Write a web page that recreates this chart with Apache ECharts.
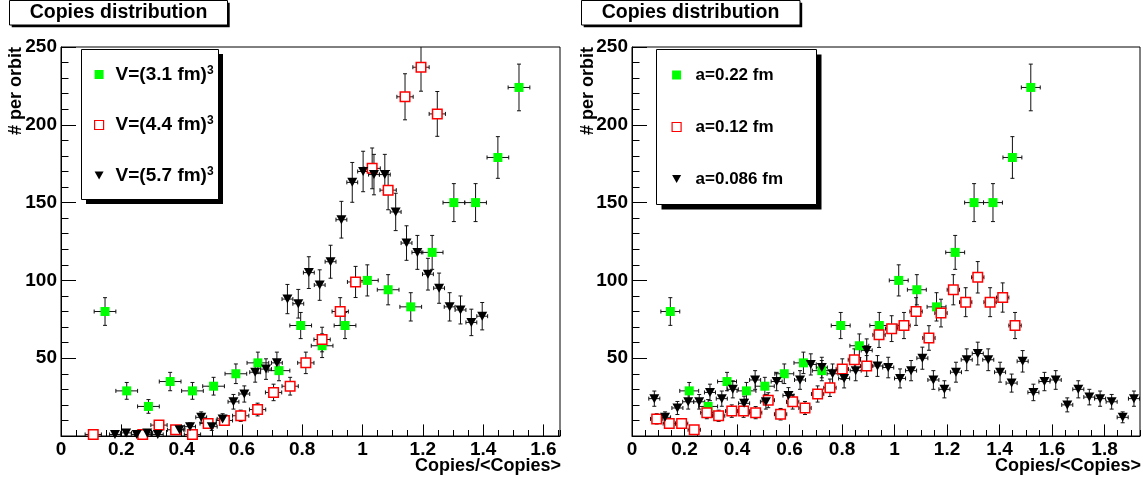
<!DOCTYPE html>
<html><head><meta charset="utf-8">
<script src="https://cdn.jsdelivr.net/npm/echarts@6/dist/echarts.min.js"></script>
<style>html,body{margin:0;padding:0;background:#fff}#c{width:1146px;height:483px}</style>
</head><body><div id="c"></div>
<script>
// ---------- data ----------
const titleText = 'Copies distribution';
const xTitle = 'Copies/<Copies>';
const yTitle = '# per orbit';
const leftNames = ['V=(3.1 fm)^3', 'V=(4.4 fm)^3', 'V=(5.7 fm)^3'];
const rightNames = ['a=0.22 fm', 'a=0.12 fm', 'a=0.086 fm'];

// green squares (same data set in both panels)
const greenX = [0.146, 0.218, 0.29, 0.362, 0.436, 0.506, 0.58, 0.653, 0.723, 0.795, 0.866, 0.942, 1.016, 1.085, 1.16, 1.231, 1.303, 1.375, 1.449, 1.519];
const greenY = [80, 29, 19, 35, 29, 32, 40, 47, 42, 71, 58, 71, 100, 94, 83, 118, 150, 150, 179, 224];
const greenErr = [8.9, 5.4, 4.4, 5.9, 5.4, 5.7, 6.3, 6.9, 6.5, 8.4, 7.6, 8.4, 10, 9.7, 9.1, 10.9, 12.2, 12.2, 13.4, 15];
const greenXErr = 0.036;

// left panel: open red squares
const redLX = [0.107, 0.271, 0.325, 0.38, 0.436, 0.488, 0.542, 0.596, 0.652, 0.705, 0.76, 0.812, 0.866, 0.926, 0.977, 1.032, 1.085, 1.141, 1.194, 1.248];
const redLY = [1, 1, 7, 4, 1, 8, 10, 13, 17, 28, 32, 47, 62, 80, 99, 172, 158, 218, 237, 207];
const redLErr = [1, 1, 2.6, 2, 1, 2.8, 3.2, 3.6, 4.1, 5.3, 5.7, 6.9, 7.9, 8.9, 10, 13.1, 12.6, 14.8, 15.4, 14.4];
const redLXErr = 0.027;

// left panel: black triangles
const blackLX = [0.179, 0.216, 0.251, 0.286, 0.321, 0.393, 0.428, 0.465, 0.5, 0.536, 0.572, 0.608, 0.644, 0.68, 0.716, 0.751, 0.787, 0.822, 0.858, 0.894, 0.93, 0.966, 1.002, 1.038, 1.074, 1.11, 1.146, 1.182, 1.217, 1.254, 1.289, 1.325, 1.361, 1.397];
const blackLY = [1, 2, 1, 2, 1, 4, 6, 12, 6, 11, 22, 27, 41, 43, 47, 88, 85, 105, 97, 112, 139, 163, 170, 168, 168, 144, 124, 118, 104, 95, 83, 81, 73, 77];
const blackLErr = [1, 1.4, 1, 1.4, 1, 2, 2.4, 3.5, 2.4, 3.3, 4.7, 5.2, 6.4, 6.6, 6.9, 9.4, 9.2, 10.2, 9.8, 10.6, 11.8, 12.8, 13, 13, 13, 12, 11.1, 10.9, 10.2, 9.7, 9.1, 9, 8.5, 8.8];
const blackLXErr = 0.018;

// right panel: open red squares
const redRX = [0.094, 0.142, 0.189, 0.237, 0.285, 0.33, 0.38, 0.425, 0.471, 0.519, 0.566, 0.612, 0.659, 0.707, 0.754, 0.801, 0.847, 0.894, 0.941, 0.989, 1.036, 1.082, 1.131, 1.177, 1.224, 1.271, 1.317, 1.364, 1.412, 1.459];
const redRY = [11, 8, 8, 4, 15, 13, 16, 16, 15, 23, 14, 22, 18, 27, 31, 43, 49, 45, 65, 69, 71, 80, 63, 79, 94, 86, 102, 86, 89, 71];
const redRErr = [3.3, 2.8, 2.8, 2, 3.9, 3.6, 4, 4, 3.9, 4.8, 3.7, 4.7, 4.2, 5.2, 5.6, 6.6, 7, 6.7, 8.1, 8.3, 8.4, 8.9, 7.9, 8.9, 9.7, 9.3, 10.1, 9.3, 9.4, 8.4];
const redRXErr = 0.0235;

// right panel: black triangles
const blackRX = [0.085, 0.126, 0.173, 0.214, 0.256, 0.297, 0.342, 0.384, 0.427, 0.469, 0.51, 0.551, 0.596, 0.64, 0.681, 0.723, 0.764, 0.808, 0.852, 0.894, 0.935, 0.976, 1.021, 1.063, 1.106, 1.148, 1.19, 1.234, 1.275, 1.317, 1.357, 1.402, 1.446, 1.488, 1.529, 1.571, 1.614, 1.658, 1.7, 1.742, 1.783, 1.827, 1.869, 1.912];
const blackRY = [24, 12, 18, 22, 22, 28, 24, 30, 21, 36, 22, 35, 26, 36, 46, 44, 40, 37, 42, 55, 45, 44, 37, 42, 50, 36, 30, 41, 49, 53, 49, 41, 34, 48, 28, 35, 36, 20, 30, 25, 24, 22, 12, 24];
const blackRErr = [4.9, 3.5, 4.2, 4.7, 4.7, 5.3, 4.9, 5.5, 4.6, 6, 4.7, 5.9, 5.1, 6, 6.8, 6.6, 6.3, 6.1, 6.5, 7.4, 6.7, 6.6, 6.1, 6.5, 7.1, 6, 5.5, 6.4, 7, 7.3, 7, 6.4, 5.8, 6.9, 5.3, 5.9, 6, 4.5, 5.5, 5, 4.9, 4.7, 3.5, 4.9];
const blackRXErr = 0.021;

const leftXMax = 1.655, rightXMax = 1.935, yMax = 250;

// ---------- chart ----------
const FONT = "'Liberation Sans', Arial, Helvetica, sans-serif";
const GREEN = '#00ff00', RED = '#ff0000';
const DOWN_TRIANGLE = 'path://M0,0L10,0L5,9Z';

function pts(xs, ys) { return xs.map((x, i) => [x, ys[i]]); }
function errPts(xs, ys, ex, eys) { return xs.map((x, i) => [x, ys[i], ex, eys[i]]); }

function renderErr(params, api) {
  const x = api.value(0), y = api.value(1), ex = api.value(2), ey = api.value(3);
  const l = api.coord([x - ex, y]), r = api.coord([x + ex, y]);
  const lo = api.coord([x, y - ey]), hi = api.coord([x, y + ey]);
  const c = 2;
  const st = { stroke: '#111', lineWidth: 1 };
  const ln = (x1, y1, x2, y2) => ({ type: 'line', shape: { x1, y1, x2, y2 }, style: st });
  return {
    type: 'group', children: [
      ln(l[0], l[1], r[0], r[1]),
      ln(lo[0], lo[1], hi[0], hi[1]),
      ln(l[0], l[1] - c, l[0], l[1] + c),
      ln(r[0], r[1] - c, r[0], r[1] + c),
      ln(lo[0] - c, lo[1], lo[0] + c, lo[1]),
      ln(hi[0] - c, hi[1], hi[0] + c, hi[1])
    ]
  };
}

function errSeries(xi, data) {
  return { type: 'custom', xAxisIndex: xi, yAxisIndex: xi / 2, renderItem: renderErr, clip: true,
    encode: { x: 0, y: 1 }, data, silent: true, z: 2 };
}
function markSeries(xi, name, data, kind) {
  const s = { type: 'scatter', name, xAxisIndex: xi, yAxisIndex: xi / 2, data, z: 2, silent: true,
    emphasis: { disabled: true } };
  if (kind === 'g') { s.symbol = 'rect'; s.symbolSize = 9; s.itemStyle = { color: GREEN, opacity: 1 }; }
  if (kind === 'r') { s.symbol = 'rect'; s.symbolSize = 9.5; s.itemStyle = { color: '#fff', borderColor: RED, borderWidth: 1.5, opacity: 1 }; }
  if (kind === 'b') { s.symbol = 'triangle'; s.symbolRotate = 180; s.symbolSize = [10, 9]; s.itemStyle = { color: '#000', opacity: 1 }; }
  return s;
}

const tickLabel = { fontFamily: FONT, fontWeight: 'bold', fontSize: 19, color: '#000' };

function xMajor(gi, max) {
  return { type: 'value', gridIndex: gi, position: 'bottom', min: 0, max, interval: 0.2,
    axisLine: { show: true, lineStyle: { color: '#000', width: 1 } },
    axisTick: { show: true, inside: true, length: 11.6, lineStyle: { color: '#000' } },
    axisLabel: Object.assign({ margin: 4, showMaxLabel: false }, tickLabel),
    splitLine: { show: false } };
}
function xMinor(gi, max) {
  return { type: 'value', gridIndex: gi, position: 'bottom', min: 0, max, interval: 0.05,
    axisLine: { show: false },
    axisTick: { show: true, inside: true, length: 6, lineStyle: { color: '#000' } },
    axisLabel: { show: false }, splitLine: { show: false } };
}
function yAx(gi) {
  return { type: 'value', gridIndex: gi, min: 0, max: yMax, interval: 50,
    axisLine: { show: true, lineStyle: { color: '#000', width: 1 } },
    axisTick: { show: true, inside: true, length: 15, lineStyle: { color: '#000' } },
    minorTick: { show: true, splitNumber: 5, length: 7.5, lineStyle: { color: '#000' } },
    axisLabel: Object.assign({ margin: 4, showMinLabel: false }, tickLabel),
    splitLine: { show: false } };
}

function legendCfg(names, left, top, gap, fs, pad) {
  return {
    orient: 'vertical', left, top, padding: 0, itemWidth: 9, itemHeight: 9, itemGap: gap,
    selectedMode: false,
    data: names.map((n, i) => i === 0 ? { name: n, icon: 'rect' }
      : i === 1 ? { name: n, icon: 'rect', itemStyle: { borderWidth: 1.2 } }
      : { name: n, icon: DOWN_TRIANGLE }),
    formatter: n => '{g|}' + n.replace('^3', '{s|3}'),
    textStyle: { fontFamily: FONT, fontWeight: 'bold', fontSize: fs, color: '#000', lineHeight: 20,
      rich: {
        g: { width: pad, lineHeight: 20 },
        s: { fontFamily: FONT, fontWeight: 'bold', fontSize: 12, color: '#000', lineHeight: 8, verticalAlign: 'top' }
      } }
  };
}

function boxWithShadow(x, y, w, h, off) {
  return [
    { type: 'rect', z: 0, shape: { x: x + off, y: y + off, width: w, height: h }, style: { fill: '#000' } },
    { type: 'rect', z: 0, shape: { x, y, width: w, height: h }, style: { fill: '#fff', stroke: '#000', lineWidth: 1 } }
  ];
}
function txt(x, y, text, fs, align, rot) {
  return { type: 'text', z: 5, x, y, rotation: rot || 0,
    style: { text, fill: '#000', font: 'bold ' + fs + 'px ' + FONT, textAlign: align, textVerticalAlign: 'middle' } };
}

const graphic = [].concat(
  boxWithShadow(9.5, 0.5, 218, 24.5, 2.2),
  [txt(118.5, 13, titleText, 19.5, 'center')],
  boxWithShadow(581.5, 0.5, 218.5, 24.5, 2.2),
  [txt(690.5, 13, titleText, 19.5, 'center')],
  boxWithShadow(81.5, 49.5, 137, 150, 4.5),
  boxWithShadow(656.5, 49.5, 160, 155, 5),
  [txt(561, 466, xTitle, 18, 'right'),
   txt(1141, 466, xTitle, 18, 'right'),
   txt(16.5, 47, yTitle, 18, 'right', Math.PI / 2),
   txt(588, 47, yTitle, 18, 'right', Math.PI / 2)]
);

const option = {
  animation: false,
  backgroundColor: '#fff',
  grid: [
    { left: 61, top: 47, width: 499, height: 389, show: true, borderColor: '#000', borderWidth: 1, backgroundColor: 'transparent' },
    { left: 632, top: 47, width: 508, height: 389, show: true, borderColor: '#000', borderWidth: 1, backgroundColor: 'transparent' }
  ],
  xAxis: [xMajor(0, leftXMax), xMinor(0, leftXMax), xMajor(1, rightXMax), xMinor(1, rightXMax)],
  yAxis: [yAx(0), yAx(1)],
  legend: [
    legendCfg(leftNames, 94, 64.5, 30.5, 19, 7),
    legendCfg(rightNames, 671.5, 65, 32, 17, 9.5)
  ],
  graphic,
  series: [
    errSeries(0, errPts(greenX, greenY, greenXErr, greenErr)),
    markSeries(0, leftNames[0], pts(greenX, greenY), 'g'),
    errSeries(0, errPts(redLX, redLY, redLXErr, redLErr)),
    markSeries(0, leftNames[1], pts(redLX, redLY), 'r'),
    errSeries(0, errPts(blackLX, blackLY, blackLXErr, blackLErr)),
    markSeries(0, leftNames[2], pts(blackLX, blackLY), 'b'),

    errSeries(2, errPts(greenX, greenY, greenXErr, greenErr)),
    markSeries(2, rightNames[0], pts(greenX, greenY), 'g'),
    errSeries(2, errPts(redRX, redRY, redRXErr, redRErr)),
    markSeries(2, rightNames[1], pts(redRX, redRY), 'r'),
    errSeries(2, errPts(blackRX, blackRY, blackRXErr, blackRErr)),
    markSeries(2, rightNames[2], pts(blackRX, blackRY), 'b')
  ]
};
const chart = echarts.init(document.getElementById('c'), null, { renderer: 'canvas' });
chart.setOption(option);
</script></body></html>
